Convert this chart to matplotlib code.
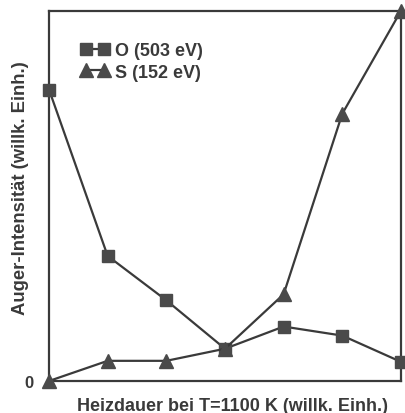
import matplotlib
matplotlib.use("Agg")
import matplotlib.pyplot as plt

# Heating time steps (arbitrary units) and Auger intensities (arbitrary units)
heat_steps = [0, 1, 2, 3, 4, 5, 6]
oxygen_503 = [289, 124, 80, 32, 54, 45, 19]
sulfur_152 = [0, 20, 20, 32, 86, 265, 367]

ink = "#3a3a3a"
mark = "#4a4a4a"
plt.rcParams["font.family"] = ["Liberation Sans", "DejaVu Sans"]
plt.rcParams["font.weight"] = "bold"

fig = plt.figure(figsize=(4.05, 4.14), dpi=100)
ax = fig.add_axes([0.121, 0.0773, 0.869, 0.894])

ax.plot(heat_steps, oxygen_503, color=ink, lw=1.6, marker="s", ms=9,
        mfc=mark, mec=mark, clip_on=False, zorder=3, label="O (503 eV)")
ax.plot(heat_steps, sulfur_152, color=ink, lw=1.6, marker="^", ms=10,
        mfc=mark, mec=mark, clip_on=False, zorder=3, label="S (152 eV)")

ax.set_xlim(0, 6)
ax.set_ylim(0, 367)
ax.set_xticks([])
ax.set_yticks([0])
ax.set_yticklabels(["0"])
ax.tick_params(axis="y", length=0, pad=11, labelsize=12, colors=ink)
for s in ax.spines.values():
    s.set_color(ink)
    s.set_linewidth(1.6)

ax.set_xlabel("Heizdauer bei T=1100 K (willk. Einh.)", fontsize=13,
              fontweight="bold", color=ink)
ax.xaxis.set_label_coords(0.52, -0.043)
ax.set_ylabel("Auger-Intensität (willk. Einh.)", fontsize=13.3,
              fontweight="bold", color=ink)
ax.yaxis.set_label_coords(-0.058, 0.524)

leg = ax.legend(loc="upper left", bbox_to_anchor=(0.07, 0.935), frameon=False,
                numpoints=2, handlelength=1.6, handletextpad=0.3,
                labelspacing=0.25, borderaxespad=0,
                prop={"size": 13, "weight": "bold"})
for t in leg.get_texts():
    t.set_color(ink)

fig.savefig("out.png", dpi=100)
